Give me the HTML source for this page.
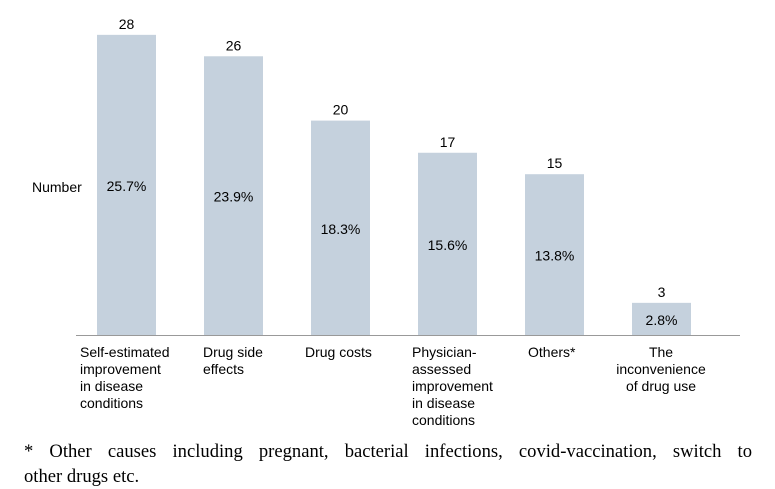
<!DOCTYPE html>
<html><head><meta charset="utf-8"><style>
body{margin:0;width:775px;height:488px;background:#fff;overflow:hidden;position:relative;font-family:"Liberation Sans",Arial,sans-serif}
#foot{position:absolute;left:24px;top:439px;width:728px;font-family:"Liberation Serif","Times New Roman",serif;font-size:18.6px;line-height:25px;color:#000}
#foot .l1{text-align:justify;text-align-last:justify;white-space:nowrap}
</style></head><body>
<svg id="chart" width="775" height="430" style="position:absolute;left:0;top:0" xmlns="http://www.w3.org/2000/svg"></svg>
<div id="foot"><div class="l1" style="white-space:normal">* Other causes including pregnant, bacterial infections, covid-vaccination, switch to</div><div>other drugs etc.</div></div>
<script>
const categories=[["Self-estimated","improvement","in disease","conditions"],["Drug side","effects"],["Drug costs"],["Physician-","assessed","improvement","in disease","conditions"],["Others*"],["The","inconvenience","of drug use"]];
const values=[28,26,20,17,15,3];
const percents=["25.7%","23.9%","18.3%","15.6%","13.8%","2.8%"];
const svg=document.getElementById('chart');
const NS='http://www.w3.org/2000/svg';
const base=335,ppu=10.72,x0=97,step=107,bw=59;
const y=v=>base-v*ppu;
const labelX=[80,203,305,412,528,661];
const labelAnchor=["start","start","start","start","start","middle"];
function mk(t,a){const e=document.createElementNS(NS,t);for(const k in a)e.setAttribute(k,a[k]);svg.appendChild(e);return e;}
values.forEach((v,i)=>{
 const bx=x0+i*step;
 const r=mk('rect',{x:bx,y:y(v),width:bw,height:base-y(v),fill:'#c5d1dd'});
 
 
 const t=mk('text',{x:bx+bw/2,y:y(v)-6,'text-anchor':'middle','font-size':14,fill:'#000'});t.textContent=v;
 
 
 const p=mk('text',{x:bx+bw/2,y:(y(v)+base)/2+6,'text-anchor':'middle','font-size':14,fill:'#000'});p.textContent=percents[i];
 
 
 categories[i].forEach((s,j)=>{
  const c=mk('text',{x:labelX[i],y:357+j*17,'text-anchor':labelAnchor[i],'font-size':14,fill:'#000'});c.textContent=s;
  
  
 });
});
const ax=mk('line',{x1:76,x2:740,y1:base+0.5,y2:base+0.5,stroke:'#999','stroke-width':1});


const yt=mk('text',{x:32,y:192,'font-size':14,fill:'#000'});yt.textContent='Number';


</script>
</body></html>
